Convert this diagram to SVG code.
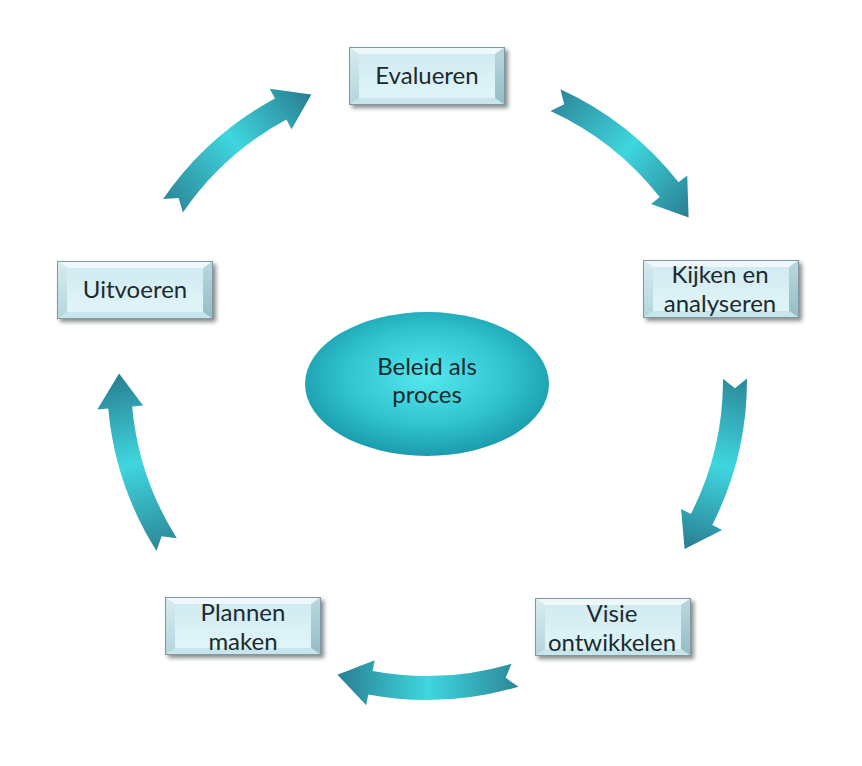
<svg xmlns="http://www.w3.org/2000/svg" xmlns:xlink="http://www.w3.org/1999/xlink" width="862" height="766" viewBox="0 0 862 766">
<style>
.lbl{font-family:Lato,"Liberation Sans",sans-serif;font-size:24px;fill:#1c2a30;text-anchor:middle;}
.arrow{fill:url(#arrG);}
.shadow{fill:#36403f;opacity:.6;filter:url(#blur);}
.bv-top{fill:#eef8fa;}
.bv-bottom{fill:#c6e6ec;}
.bv-left{fill:url(#leftG);}
.bv-right{fill:url(#rightG);}
.face{fill:url(#faceG);}
.border{fill:none;stroke:#8497a0;stroke-width:1;}
</style>
<defs>
<filter id="blur" x="-20%" y="-20%" width="140%" height="140%"><feGaussianBlur stdDeviation="2"/></filter>
<linearGradient id="faceG" x1="0" y1="0" x2="0" y2="1"><stop offset="0" stop-color="#cfeaf0"/><stop offset="1" stop-color="#e2f6f9"/></linearGradient>
<linearGradient id="leftG" x1="0" y1="0" x2="0" y2="1"><stop offset="0" stop-color="#d6ecf0"/><stop offset="1" stop-color="#b3d5dc"/></linearGradient>
<linearGradient id="rightG" x1="0" y1="0" x2="0" y2="1"><stop offset="0" stop-color="#b9d8de"/><stop offset="1" stop-color="#94bdc6"/></linearGradient>
<linearGradient id="arrG" gradientUnits="userSpaceOnUse" x1="0" y1="-92" x2="0" y2="89"><stop offset="0" stop-color="#2c8798"/><stop offset="0.5" stop-color="#3fd6df"/><stop offset="1" stop-color="#287e91"/></linearGradient>
<radialGradient id="ellG" cx="0.5" cy="0.45" r="0.55"><stop offset="0" stop-color="#55e8ee"/><stop offset="0.6" stop-color="#30c4d0"/><stop offset="1" stop-color="#1b9bac"/></radialGradient>
<g id="box">
<rect class="shadow" x="3" y="3" width="156" height="58"/>
<rect class="face" x="0" y="0" width="156" height="58"/>
<polygon class="bv-top" points="0,0 156,0 146,7 10,7"/>
<polygon class="bv-bottom" points="0,58 156,58 146,51 10,51"/>
<polygon class="bv-left" points="0,0 10,7 10,51 0,58"/>
<polygon class="bv-right" points="156,0 146,7 146,51 156,58"/>
<rect class="border" x="0.5" y="0.5" width="155" height="57"/>
</g>
<path id="arr" class="arrow" d="M 306.42 -92.22 A 320 320 0 0 1 314.71 57.93 L 325.53 59.92 L 294.93 88.77 L 280.29 51.60 L 291.11 53.59 A 296 296 0 0 0 283.44 -85.31 L 297.57 -79.46 Z"/>
</defs>
<rect width="862" height="766" fill="#ffffff"/>
<g id="connectors">
<use xlink:href="#arr" transform="translate(427 380) rotate(-48.6)"/>
<use xlink:href="#arr" transform="translate(427 380) rotate(16.5)"/>
<use xlink:href="#arr" transform="translate(427 380) rotate(90.15)"/>
<use xlink:href="#arr" transform="translate(427 380) rotate(164.45)"/>
<use xlink:href="#arr" transform="translate(427 380) rotate(231.2)"/>
</g>
<g id="node-center">
<ellipse cx="427" cy="384" rx="122" ry="72" fill="url(#ellG)"/>
<text class="lbl" x="427" y="375">Beleid als</text>
<text class="lbl" x="427" y="403">proces</text>
</g>
<g id="node-evalueren">
<use xlink:href="#box" transform="translate(349 47)"/>
<text class="lbl" x="427" y="84">Evalueren</text>
</g>
<g id="node-kijken">
<use xlink:href="#box" transform="translate(643 260)"/>
<text class="lbl" x="720" y="283">Kijken en</text>
<text class="lbl" x="720" y="312">analyseren</text>
</g>
<g id="node-visie">
<use xlink:href="#box" transform="translate(535 598)"/>
<text class="lbl" x="612" y="622">Visie</text>
<text class="lbl" x="612" y="651">ontwikkelen</text>
</g>
<g id="node-plannen">
<use xlink:href="#box" transform="translate(165 597)"/>
<text class="lbl" x="243" y="621">Plannen</text>
<text class="lbl" x="243" y="650">maken</text>
</g>
<g id="node-uitvoeren">
<use xlink:href="#box" transform="translate(57 261)"/>
<text class="lbl" x="135" y="298">Uitvoeren</text>
</g>
</svg>
